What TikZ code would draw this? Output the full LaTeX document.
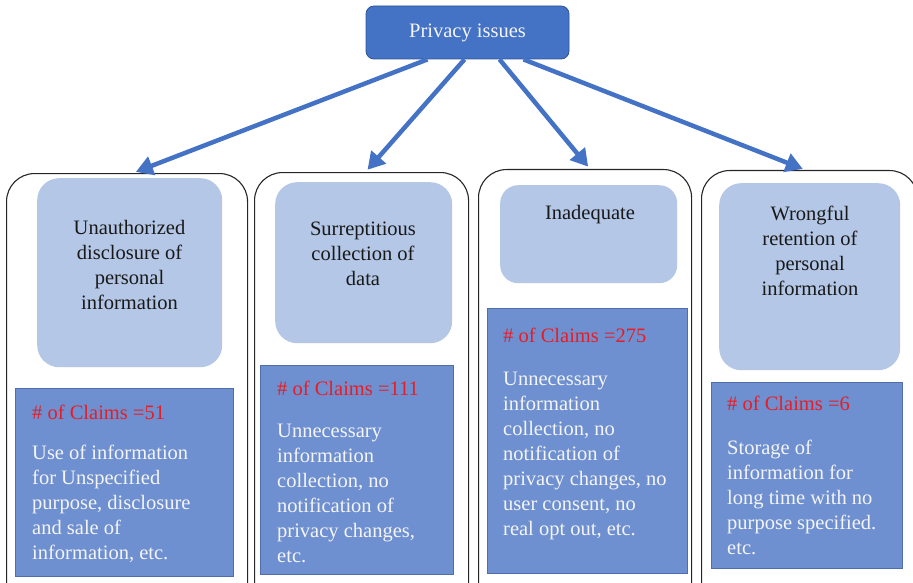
\documentclass[tikz,border=0pt]{standalone}
\usepackage{fontspec}
\setmainfont{Liberation Serif}
\usetikzlibrary{arrows.meta}
\definecolor{topblue}{RGB}{68,114,196}
\definecolor{topedge}{RGB}{47,85,151}
\definecolor{lightblue}{RGB}{180,199,231}
\definecolor{midblue}{RGB}{110,144,208}
\definecolor{edgeblue}{RGB}{80,110,170}
\definecolor{claimred}{RGB}{232,28,36}
\definecolor{bodywhite}{RGB}{244,244,244}
\tikzset{
  panel/.style={draw=black!85, line width=1.1pt, rounded corners=28pt, fill=white, anchor=north west, inner sep=0pt},
  lightbox/.style={fill=lightblue, rounded corners=22pt, anchor=north west, inner sep=0pt},
  darkbox/.style={fill=midblue, draw=edgeblue, line width=0.8pt, anchor=north west, inner sep=0pt},
  txt/.style={font=\fontsize{20.5}{25}\selectfont, inner sep=0pt},
  headtext/.style={txt, anchor=north, align=center, text=black!90},
  claimtext/.style={txt, anchor=north west, align=left, text=bodywhite},
  link/.style={draw=topblue, line width=4.5pt, -{Triangle[length=17pt,width=19pt]}, shorten >=3pt}
}
\begin{document}
\begin{tikzpicture}[x=1pt,y=-1pt]
\useasboundingbox (0,0) rectangle (913,583);
\clip (0,0) rectangle (913,583);
% top node
\node[fill=topblue, draw=topedge, line width=0.8pt, rounded corners=8pt, minimum width=203pt, minimum height=53pt, inner sep=0pt, text=bodywhite, font=\fontsize{20.5}{25}\selectfont] (top) at (467.5,32.5) {Privacy issues};
% panels
\node[panel, minimum width=241pt, minimum height=480pt] (p1) at (6,173) {};
\node[panel, minimum width=214pt, minimum height=480pt] (p2) at (254,172) {};
\node[panel, minimum width=213pt, minimum height=480pt] (p3) at (478,169) {};
\node[panel, minimum width=216pt, minimum height=480pt] (p4) at (701,170) {};
% light boxes
\node[lightbox, minimum width=185pt, minimum height=189pt] (l1) at (37,178) {};
\node[lightbox, minimum width=177pt, minimum height=161pt] (l2) at (275,182) {};
\node[lightbox, minimum width=177pt, minimum height=98pt, rounded corners=18pt] (l3) at (500,185) {};
\node[lightbox, minimum width=181pt, minimum height=187pt] (l4) at (719,183) {};
\node[headtext] (h1) at (129.5,216.5) {\strut Unauthorized\\ disclosure of\\ personal\\ information};
\node[headtext] (h2) at (363,217.5) {\strut Surreptitious\\ collection of\\ data};
\node[headtext] (h3) at (590,201.5) {\strut Inadequate};
\node[headtext] (h4) at (810,202.5) {\strut Wrongful\\ retention of\\ personal\\ information};
% dark boxes
\node[darkbox, minimum width=218pt, minimum height=188pt] (d1) at (15,388) {};
\node[darkbox, minimum width=193pt, minimum height=209pt] (d2) at (260,365) {};
\node[darkbox, minimum width=200pt, minimum height=265pt] (d3) at (487,308) {};
\node[darkbox, minimum width=191pt, minimum height=186pt] (d4) at (711,382) {};
\node[claimtext] (c1) at (32,401.5) {\textcolor{claimred}{\strut\# of Claims =51}\\[15pt]Use of information\\ for Unspecified\\ purpose, disclosure\\ and sale of\\ information, etc.};
\node[claimtext] (c2) at (277,377.5) {\textcolor{claimred}{\strut\# of Claims =111}\\[17pt]Unnecessary\\ information\\ collection, no\\ notification of\\ privacy changes,\\ etc.};
\node[claimtext] (c3) at (503,324.5) {\textcolor{claimred}{\strut\# of Claims =275}\\[18pt]Unnecessary\\ information\\ collection, no\\ notification of\\ privacy changes, no\\ user consent, no\\ real opt out, etc.};
\node[claimtext] (c4) at (727,392.5) {\textcolor{claimred}{\strut\# of Claims =6}\\[19pt]Storage of\\ information for\\ long time with no\\ purpose specified.\\ etc.};
% arrows
\draw[link] ([xshift=-40pt]top.south) -- ([xshift=6pt]p1.north);
\draw[link] ([xshift=-3pt]top.south) -- ([xshift=4pt]p2.north);
\draw[link] ([xshift=32pt]top.south) -- ([xshift=5pt]p3.north);
\draw[link] ([xshift=56pt]top.south) -- ([xshift=-4pt]p4.north);
\end{tikzpicture}
\end{document}
